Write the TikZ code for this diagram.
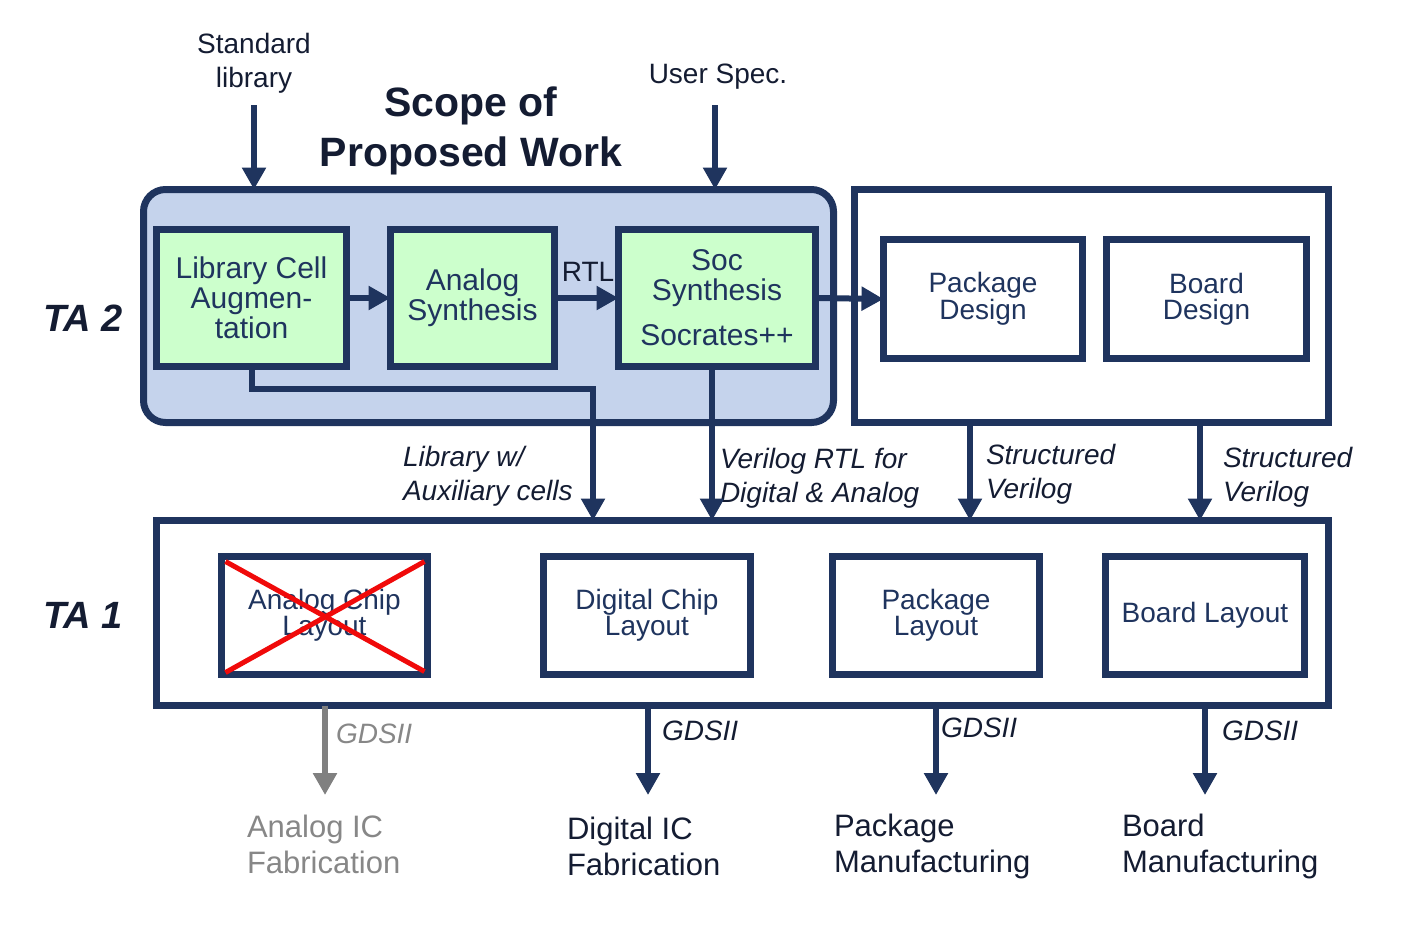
\documentclass[tikz,border=0pt]{standalone}
\usepackage{fontspec}
\setmainfont{Liberation Sans}
\usetikzlibrary{arrows.meta}
\definecolor{navy}{RGB}{31,52,94}
\definecolor{txtdark}{RGB}{20,28,50}
\definecolor{scopefill}{RGB}{197,211,236}
\definecolor{boxgreen}{RGB}{204,255,204}
\definecolor{grayarr}{RGB}{128,128,128}
\definecolor{graytxt}{RGB}{135,135,135}
\definecolor{crossred}{RGB}{240,10,10}
\begin{document}
\begin{tikzpicture}[x=1pt,y=-1pt,
  every node/.style={inner sep=0pt, outer sep=0pt},
  boxline/.style={draw=navy, line width=7pt},
  greenbox/.style={boxline, fill=boxgreen, text=navy, align=center,
    font=\fontsize{30}{30}\selectfont},
  whitebox/.style={boxline, fill=white, text=navy, align=center,
    font=\fontsize{28}{26}\selectfont},
  scopebox/.style={boxline, fill=scopefill, rounded corners=22pt},
  bigbox/.style={boxline, fill=white},
  arr/.style={draw=navy, line width=6pt, -{Triangle[width=23pt,length=22pt]}},
  grayarrow/.style={draw=grayarr, line width=6pt, -{Triangle[width=23pt,length=22pt]}},
  toplabel/.style={text=txtdark, align=center, font=\fontsize{28}{34}\selectfont},
  ilabel/.style={text=txtdark, align=left, anchor=west, font=\fontsize{28}{34}\selectfont\itshape},
  gdslabel/.style={text=txtdark, anchor=west, font=\fontsize{28}{34}\selectfont\itshape},
  fablabel/.style={text=txtdark, align=left, anchor=west, font=\fontsize{31}{36}\selectfont},
  talabel/.style={text=txtdark, font=\fontsize{38}{40}\selectfont\bfseries\itshape},
  titlelabel/.style={text=txtdark, align=center, font=\fontsize{41}{50}\selectfont\bfseries}
]
\useasboundingbox (0,0) rectangle (1423,937);

% ---------- TA 2 area ----------
\node[scopebox, minimum width=690pt, minimum height=233pt] (scope) at (488.5,306) {};
\node[bigbox, minimum width=474pt, minimum height=233pt] (rbox) at (1091.5,306) {};

\node[greenbox, minimum width=190pt, minimum height=137pt] (lib) at (251.5,298)
  {Library Cell\\Augmen-\\tation};
\node[greenbox, minimum width=164pt, minimum height=137pt] (ana) at (472.5,298)
  {Analog\\Synthesis};
\node[greenbox, minimum width=197pt, minimum height=137pt] (soc) at (717,298)
  {Soc\\Synthesis\\[15pt]Socrates++};

\node[whitebox, minimum width=199pt, minimum height=119pt] (pkgd) at (983,299)
  {Package\\Design};
\node[whitebox, minimum width=200pt, minimum height=119pt] (brdd) at (1206.5,299)
  {Board\\Design};

% ---------- TA 1 area ----------
\node[bigbox, minimum width=1172pt, minimum height=185pt] (ta1) at (742.5,613) {};
\node[whitebox, minimum width=206pt, minimum height=118pt] (acl) at (324.5,615.5)
  {Analog Chip\\Layout};
\node[whitebox, minimum width=207pt, minimum height=118pt] (dcl) at (647,615.5)
  {Digital Chip\\Layout};
\node[whitebox, minimum width=207pt, minimum height=118pt] (pcl) at (936,615.5)
  {Package\\Layout};
\node[whitebox, minimum width=199pt, minimum height=118pt] (bcl) at (1205,615.5)
  {Board Layout};

\draw[crossred, line width=5pt] ([shift={(4,5)}]acl.north west) -- ([shift={(-3,-3)}]acl.south east);
\draw[crossred, line width=5pt] ([shift={(-3,5)}]acl.north east) -- ([shift={(4,-2)}]acl.south west);

% ---------- labels ----------
\node[toplabel] (stdlib) at (254,63) {Standard\\library};
\node[toplabel] (userspec) at (718,77) {User Spec.};
\node[titlelabel] (title) at (471,131) {Scope of\\Proposed Work};
\node[talabel] (ta2) at (83,318) {TA 2};
\node[talabel] (ta1l) at (83,615) {TA 1};

\node[toplabel] (rtl) at (588,272) {RTL};

\node[ilabel] (libw) at (403,476) {Library w/\\Auxiliary cells};
\node[ilabel] (vrtl) at (720,478) {Verilog RTL for\\Digital \& Analog};
\node[ilabel] (sv1) at (986,474) {Structured\\Verilog};
\node[ilabel] (sv2) at (1223,477) {Structured\\Verilog};

\node[gdslabel, text=graytxt] (g1) at (336,734) {GDSII};
\node[gdslabel] (g2) at (662,731) {GDSII};
\node[gdslabel] (g3) at (941,728) {GDSII};
\node[gdslabel] (g4) at (1222,731) {GDSII};

\node[fablabel, text=graytxt] (f1) at (247,844) {Analog IC\\Fabrication};
\node[fablabel] (f2) at (567,846) {Digital IC\\Fabrication};
\node[fablabel] (f3) at (834,846) {Package\\Manufacturing};
\node[fablabel] (f4) at (1122,846) {Board\\Manufacturing};

% ---------- coordinates ----------
\coordinate (sl) at (254,105);
\coordinate (us) at (715,105);
\coordinate (xlib) at (593,0);
\coordinate (xsoc) at (712,0);
\coordinate (xp) at (970,0);
\coordinate (xb) at (1200,0);
\coordinate (yb) at (0,795);
\coordinate (xa) at (325,0);
\coordinate (xd) at (648,0);
\coordinate (xk) at (936,0);
\coordinate (xr) at (1205,0);

% ---------- connectors ----------
\draw[arr] (sl) -- (sl |- scope.north);
\draw[arr] (us) -- (us |- scope.north);

\draw[arr] (lib.east) -- (ana.west);
\draw[arr] (ana.east) -- (soc.west);
\draw[arr] (soc.east) -- (pkgd.west);

\draw[arr] (lib.south) -- ++(0,22) -| (xlib |- ta1.north);
\draw[arr] (soc.south -| xsoc) -- (xsoc |- ta1.north);
\draw[arr] (xp |- rbox.south) -- (xp |- ta1.north);
\draw[arr] (xb |- rbox.south) -- (xb |- ta1.north);

\draw[grayarrow] (xa |- ta1.south) -- (xa |- yb);
\draw[arr] (xd |- ta1.south) -- (xd |- yb);
\draw[arr] (xk |- ta1.south) -- (xk |- yb);
\draw[arr] (xr |- ta1.south) -- (xr |- yb);
\end{tikzpicture}
\end{document}
